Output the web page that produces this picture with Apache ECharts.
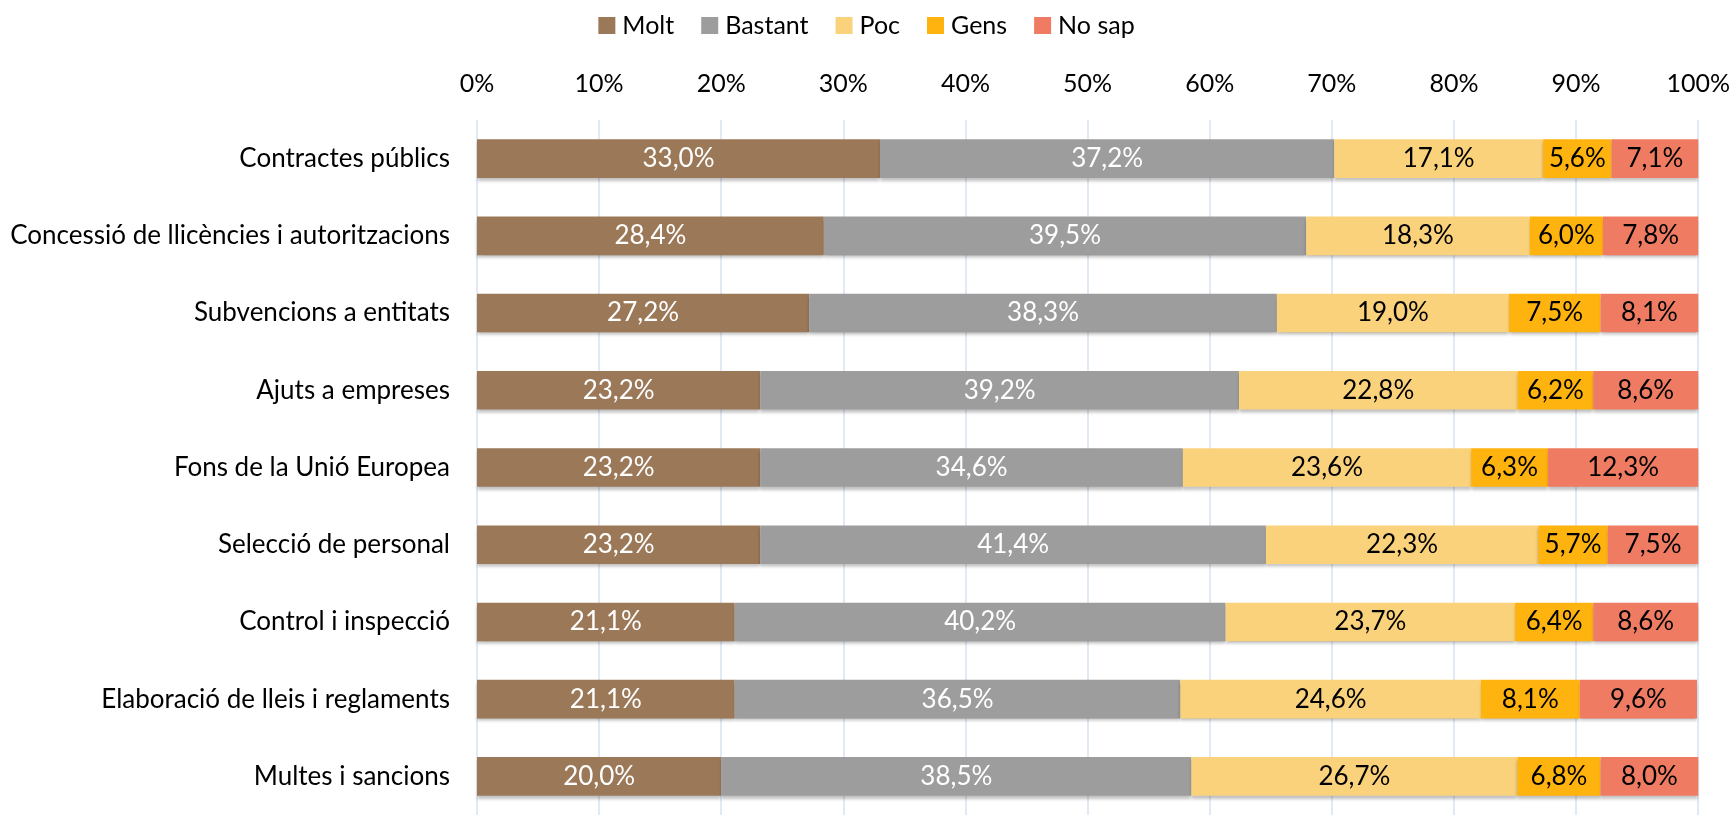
<!DOCTYPE html>
<html>
<head>
<meta charset="utf-8">
<script src="https://cdn.jsdelivr.net/npm/echarts@6/dist/echarts.min.js"></script>
<style>
  html, body { margin: 0; padding: 0; background: #fff; }
  #chart { width: 1733px; height: 815px; }
</style>
</head>
<body>
<div id="chart"></div>
<script>
var categories = [
    'Contractes públics',
    'Concessió de llicències i autoritzacions',
    'Subvencions a entitats',
    'Ajuts a empreses',
    'Fons de la Unió Europea',
    'Selecció de personal',
    'Control i inspecció',
    'Elaboració de lleis i reglaments',
    'Multes i sancions'
];
var seriesNames = ['Molt', 'Bastant', 'Poc', 'Gens', 'No sap'];
var molt    = [33.0, 28.4, 27.2, 23.2, 23.2, 23.2, 21.1, 21.1, 20.0];
var bastant = [37.2, 39.5, 38.3, 39.2, 34.6, 41.4, 40.2, 36.5, 38.5];
var poc     = [17.1, 18.3, 19.0, 22.8, 23.6, 22.3, 23.7, 24.6, 26.7];
var gens    = [5.6, 6.0, 7.5, 6.2, 6.3, 5.7, 6.4, 8.1, 6.8];
var noSap   = [7.1, 7.8, 8.1, 8.6, 12.3, 7.5, 8.6, 9.6, 8.0];
var tickLabels = ['0%', '10%', '20%', '30%', '40%', '50%', '60%', '70%', '80%', '90%', '100%'];

var colors = ['#9B7858', '#9D9D9D', '#FBD27C', '#FFB30F', '#EF7C62'];
var labelColors = ['#fff', '#fff', '#000', '#000', '#000'];
var values = [molt, bastant, poc, gens, noSap];
var font = 'Lato, "Noto Sans", sans-serif';

var myChart = echarts.init(document.getElementById('chart'));

var series = seriesNames.map(function (name, i) {
    return {
        name: name,
        type: 'bar',
        stack: 'total',
        barWidth: '50%',
        data: values[i],
        itemStyle: {
            color: colors[i],
            shadowColor: 'rgba(0,0,0,0.25)',
            shadowBlur: 3,
            shadowOffsetY: 3
        },
        label: {
            show: true,
            position: 'inside',
            color: labelColors[i],
            fontFamily: font,
            fontSize: 26,
            formatter: function (p) { return p.value.toFixed(1).replace('.', ',') + '%'; }
        }
    };
});

myChart.setOption({
    animation: false,
    color: colors,
    legend: {
        top: 8,
        left: 'center',
        itemWidth: 17,
        itemHeight: 17,
        itemGap: 27,
        icon: 'rect',
        textStyle: { fontFamily: font, fontSize: 25, color: '#000', padding: [0, 0, 0, 2] },
        data: seriesNames
    },
    grid: { left: 477, right: 34, top: 120, bottom: -6 },
    xAxis: {
        type: 'value',
        position: 'top',
        min: 0,
        max: 100,
        interval: 10,
        axisLine: { show: false },
        axisTick: { show: false },
        splitLine: { lineStyle: { color: '#D6E2F2', width: 1.5 } },
        axisLabel: {
            margin: 24,
            fontFamily: font,
            fontSize: 25,
            color: '#000',
            formatter: function (v) { return tickLabels[Math.round(v / 10)]; }
        }
    },
    yAxis: {
        type: 'category',
        inverse: true,
        data: categories,
        axisLine: { show: false },
        axisTick: { show: false },
        axisLabel: { margin: 27, fontFamily: font, fontSize: 26, color: '#000' }
    },
    series: series
});
</script>
</body>
</html>
